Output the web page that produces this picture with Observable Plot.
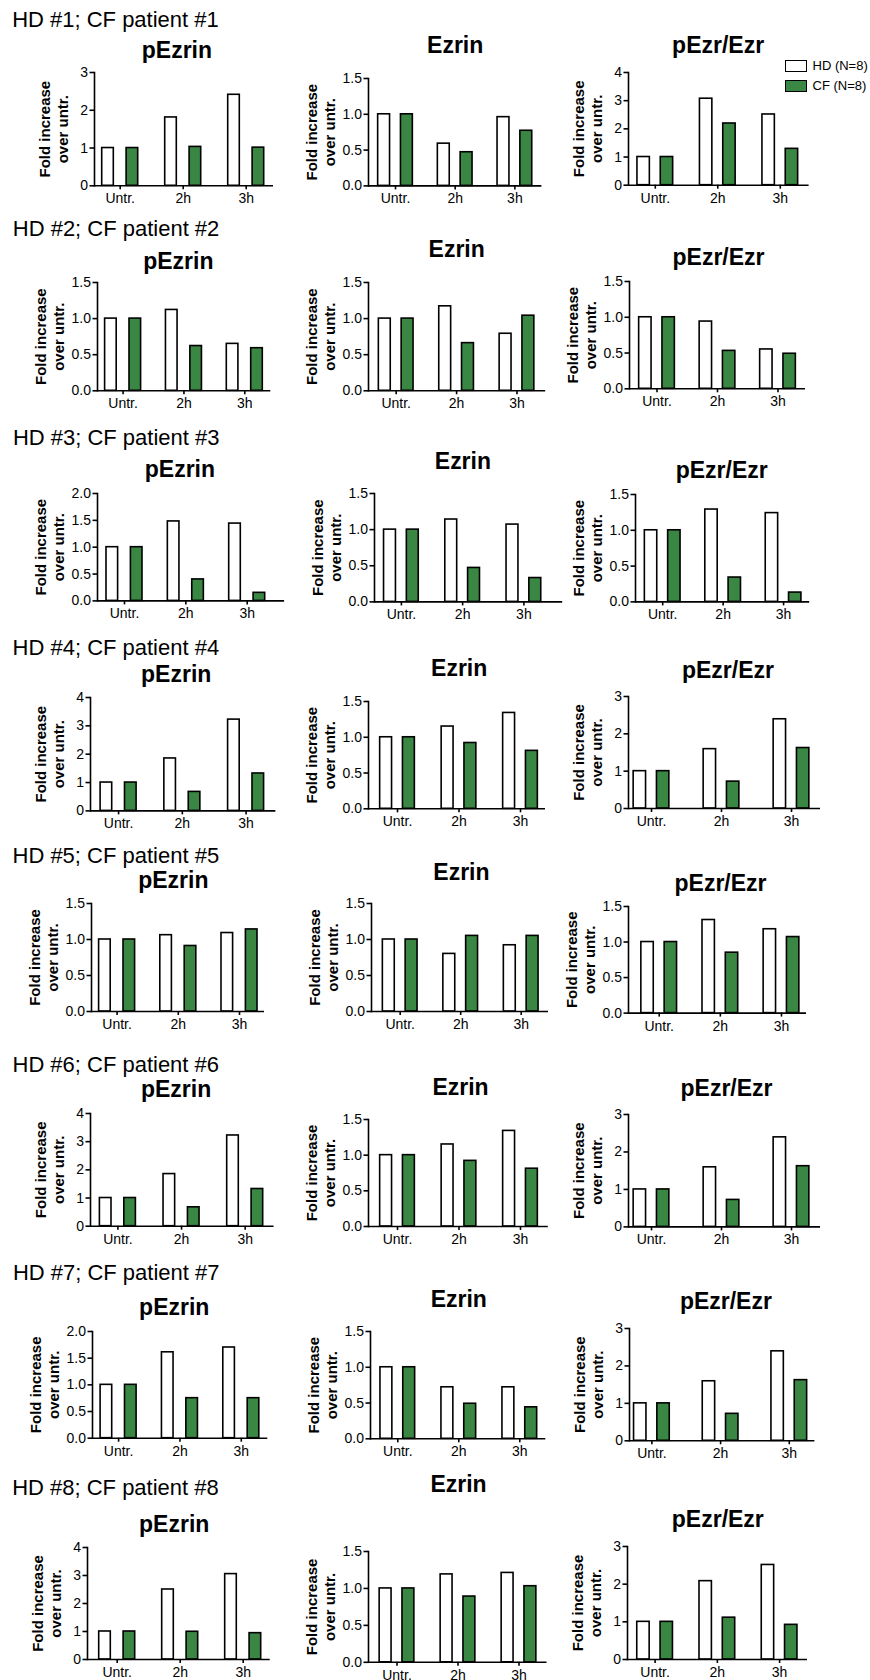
<!DOCTYPE html>
<html>
<head>
<meta charset="utf-8">
<script src="https://cdn.jsdelivr.net/npm/d3@7"></script>
<script src="https://cdn.jsdelivr.net/npm/@observablehq/plot@0.6"></script>
<style>
  html, body { margin: 0; padding: 0; background: white; overflow: hidden; }
  #root { position: relative; width: 870px; height: 1680px; overflow: hidden; font-family: "Liberation Sans", Arial, sans-serif; }
  .legend-box { position: absolute; width: 22px; height: 12px; border: 1.4px solid black; box-sizing: border-box; }
  .legend-text { position: absolute; font-size: 13px; line-height: 13px; white-space: nowrap; color: black; }
</style>
</head>
<body>
<div id="root"></div>
<script>
// ---------- data ----------
const times = ["Untr.", "2h", "3h"];
const measures = ["pEzrin", "Ezrin", "pEzr/Ezr"];
const rowLabels = [
  "HD #1; CF patient #1", "HD #2; CF patient #2", "HD #3; CF patient #3", "HD #4; CF patient #4",
  "HD #5; CF patient #5", "HD #6; CF patient #6", "HD #7; CF patient #7", "HD #8; CF patient #8"
];
const seriesNames = ["HD (N=8)", "CF (N=8)"];
const yLabel = "Fold increase\nover untr.";

const pEzrinHD = [[1, 1.81, 2.41], [1, 1.12, 0.65], [1, 1.48, 1.44], [1, 1.85, 3.22], [1, 1.06, 1.09], [1, 1.85, 3.22], [1, 1.61, 1.70], [1, 2.50, 3.05]];
const pEzrinCF = [[1, 1.03, 1.01], [1, 0.62, 0.59], [1, 0.40, 0.15], [1, 0.67, 1.32], [1, 0.91, 1.14], [1, 0.67, 1.32], [1, 0.75, 0.75], [1, 0.99, 0.94]];
const ezrinHD  = [[1, 0.59, 0.96], [1, 1.17, 0.79], [1, 1.14, 1.07], [1, 1.15, 1.34], [1, 0.80, 0.92], [1, 1.15, 1.34], [1, 0.72, 0.72], [1, 1.19, 1.21]];
const ezrinCF  = [[1, 0.47, 0.77], [1, 0.66, 1.04], [1, 0.47, 0.33], [1, 0.92, 0.81], [1, 1.05, 1.05], [1, 0.92, 0.81], [1, 0.49, 0.44], [1, 0.89, 1.03]];
const ratioHD  = [[1, 3.07, 2.51], [1, 0.94, 0.55], [1, 1.29, 1.24], [1, 1.59, 2.39], [1, 1.31, 1.18], [1, 1.59, 2.39], [1, 1.59, 2.39], [1, 2.08, 2.51]];
const ratioCF  = [[1, 2.19, 1.29], [1, 0.53, 0.49], [1, 0.34, 0.13], [1, 0.72, 1.62], [1, 0.85, 1.07], [1, 0.72, 1.62], [1, 0.72, 1.62], [1, 1.11, 0.92]];

// y-axis maximum per panel (row x column) and tick labels
const yMax = [[3, 1.5, 4], [1.5, 1.5, 1.5], [2, 1.5, 1.5], [4, 1.5, 3], [1.5, 1.5, 1.5], [4, 1.5, 3], [2, 1.5, 3], [4, 1.5, 3]];
const ticks15 = [0, 0.5, 1, 1.5];
const ticks2 = [0, 0.5, 1, 1.5, 2];
const ticks3 = [0, 1, 2, 3];
const ticks4 = [0, 1, 2, 3, 4];

// ---------- layout (page pixels) ----------
// [axis left, axis right, top tick, zero line, first group centre, last group centre]
const frames = [
  [[94.3, 273.3, 71.7, 185, 120, 246], [368.3, 541.7, 78.3, 185.7, 395.3, 514.7], [627.7, 808.3, 72.3, 185, 654.5, 779.5]],
  [[96.7, 270, 281.7, 390, 122.3, 244], [367.5, 544.7, 281.7, 390, 395.2, 516], [629, 805, 281, 388.3, 656.5, 777.5]],
  [[96.6, 283.7, 493.3, 600.7, 123.6, 246.3], [373.6, 561.8, 493.3, 601.7, 400.5, 523], [634.8, 809, 494.3, 601.7, 662, 782.9]],
  [[89.9, 275.3, 697.3, 810.7, 118, 245.5], [368, 545, 701, 808.3, 397, 520], [628, 820, 695.7, 807.7, 651, 791]],
  [[91, 264, 902.7, 1010.7, 116.6, 239], [370.8, 547.8, 902.7, 1010.7, 399.5, 520.5], [628, 806, 905.7, 1012.3, 658.7, 781]],
  [[90, 273.6, 1113.3, 1226, 117.4, 244.7], [368, 547.8, 1119, 1226, 397, 520], [628, 820, 1114.3, 1226.7, 651, 791]],
  [[91.6, 266.9, 1331, 1437.7, 117.7, 240.4], [369.7, 545, 1331, 1438.3, 397, 519], [629.2, 814.6, 1327.7, 1440, 651.6, 789]],
  [[87.3, 270, 1547.3, 1659.3, 117, 243], [367.5, 546, 1551, 1661.8, 396, 518], [626.7, 806.7, 1546, 1659, 654.3, 778.8]]
];
// title centre x, baseline y
const titlePos = [
  [[176.7, 57], [455, 53.3], [717.3, 53.3]],
  [[177.5, 268.3], [455.7, 256.7], [718, 264.3]],
  [[179, 476.7], [462, 469], [721, 478.3]],
  [[175.6, 681.7], [458.7, 675.7], [727.5, 676.7]],
  [[172.8, 886.7], [460.7, 879], [720, 890]],
  [[175.6, 1096.7], [460, 1094.3], [726, 1095.7]],
  [[173.3, 1314.3], [458, 1306.7], [725.6, 1308.3]],
  [[174, 1531.7], [457.5, 1492], [717, 1526.7]]
];
const headerBaseline = [26, 235, 445, 655, 861.7, 1071.7, 1280, 1495];
const headerX = 12;
// bar outer width and gap inside a group, per column
const barGeom = [[13.2, 11.2], [13.5, 9.3], [14, 9.3]];
const SW = 1.6;
const green = "#3a8744";
const FONT = "'Liberation Sans', Arial, Helvetica, sans-serif";
const TICK_FONT = 14;

const HD = [pEzrinHD, ezrinHD, ratioHD];
const CF = [pEzrinCF, ezrinCF, ratioCF];

function ticksFor(m) { return m === 1.5 ? ticks15 : m === 2 ? ticks2 : m === 3 ? ticks3 : ticks4; }

const root = document.getElementById("root");

for (let r = 0; r < 8; r++) {
  for (let c = 0; c < 3; c++) {
    const [L, R, T, B, c0, c2] = frames[r][c];
    const ML = 100, MR = 20, MT = 75, MB = 35;
    const left = L - ML, top = T - MT;
    const width = ML + (R - L) + MR;
    const height = MT + (B - T) + MB;
    const s = (c2 - c0) / 2;
    const wg = barGeom[c][0] - SW, gg = barGeom[c][1] + SW;
    const m = yMax[r][c];
    const tks = ticksFor(m);
    const decimal = m < 3;
    const fmt = decimal ? d3.format(".1f") : d3.format("d");
    const hdData = times.map((t, i) => ({time: t, value: HD[c][r][i]}));
    const cfData = times.map((t, i) => ({time: t, value: CF[c][r][i]}));
    const [tx, ty] = titlePos[r][c];

    const marks = [
      Plot.barY(hdData, {x: "time", y: "value", fill: "white", stroke: "black", strokeWidth: SW,
        insetLeft: s / 2 - gg / 2 - wg, insetRight: s / 2 + gg / 2}),
      Plot.barY(cfData, {x: "time", y: "value", fill: green, stroke: "black", strokeWidth: SW,
        insetLeft: s / 2 + gg / 2, insetRight: s / 2 - gg / 2 - wg}),
      Plot.ruleY([0], {stroke: "black", strokeWidth: SW}),
      Plot.frame({anchor: "left", stroke: "black", strokeWidth: SW}),
      Plot.axisY(tks, {tickSize: 4.5, tickPadding: 2, tickFormat: fmt, strokeWidth: SW, label: null, fontSize: TICK_FONT}),
      Plot.axisX({tickSize: 4, tickPadding: 3.5, strokeWidth: SW, label: null, fontSize: TICK_FONT}),
      Plot.text([measures[c]], {frameAnchor: "top-left", dx: tx - L, dy: ty - T, text: d => d,
        textAnchor: "middle", lineAnchor: "bottom", fontSize: 23, fontWeight: "bold"}),
      Plot.text([yLabel], {frameAnchor: "left", dx: decimal ? -48.5 : -41, rotate: -90, text: d => d,
        textAnchor: "middle", lineAnchor: "middle", lineHeight: 1.2, fontSize: 15, fontWeight: "bold"})
    ];
    if (c === 0) {
      marks.push(Plot.text([rowLabels[r]], {frameAnchor: "top-left", dx: headerX - L, dy: headerBaseline[r] - T,
        text: d => d, textAnchor: "start", lineAnchor: "bottom", fontSize: 22}));
    }

    const plot = Plot.plot({
      width, height,
      marginLeft: ML, marginRight: MR, marginTop: MT, marginBottom: MB,
      style: {background: "none", overflow: "visible", fontFamily: FONT, fontSize: TICK_FONT + "px", color: "black"},
      x: {type: "band", domain: times, range: [c0 - s / 2 - left, c2 + s / 2 - left], padding: 0, round: false, axis: null, label: null},
      y: {domain: [0, m], axis: null, label: null},
      marks
    });
    plot.style.position = "absolute";
    plot.style.left = left + "px";
    plot.style.top = top + "px";
    plot.style.maxWidth = "none";
    root.appendChild(plot);
  }
}

// legend (top right)
const legendRows = [
  {name: seriesNames[0], fill: "white", boxTop: 60, baseline: 69.5},
  {name: seriesNames[1], fill: green, boxTop: 80, baseline: 89.5}
];
for (const d of legendRows) {
  const box = document.createElement("div");
  box.className = "legend-box";
  box.style.left = "785px";
  box.style.top = d.boxTop + "px";
  box.style.background = d.fill;
  root.appendChild(box);
  const t = document.createElement("div");
  t.className = "legend-text";
  t.style.left = "812.5px";
  t.style.top = (d.baseline - 11) + "px";
  t.textContent = d.name;
  root.appendChild(t);
}
</script>
</body>
</html>
